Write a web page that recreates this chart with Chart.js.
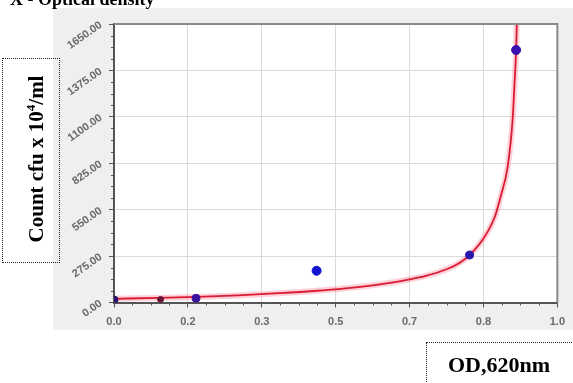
<!DOCTYPE html>
<html>
<head>
<meta charset="utf-8">
<script src="https://cdn.jsdelivr.net/npm/chart.js@4.4.1/dist/chart.umd.min.js"></script>
<style>
  html, body { margin: 0; padding: 0; background: #ffffff; }
  #wrap { position: relative; width: 573px; height: 383px; overflow: hidden; }
  #c { position: absolute; left: 0; top: 0; }
  .title { position: absolute; left: 10px; top: -11px; font: bold 18px "Liberation Serif", "Times New Roman", serif; color: #000; white-space: nowrap; }
  .ybox { position: absolute; left: 2px; top: 58px; width: 56px; height: 203px; border: 1px dotted #222; }
  .ylab { position: absolute; left: 36px; top: 159px; transform: translate(-50%, -50%) rotate(-90deg); font: bold 21px "Liberation Serif", "Times New Roman", serif; color: #000; white-space: nowrap; }
  .xbox { position: absolute; left: 426px; top: 342px; width: 160px; height: 60px; border: 1px dotted #222; }
  .xlab { position: absolute; left: 448px; top: 352px; font: bold 22px "Liberation Serif", "Times New Roman", serif; color: #000; white-space: nowrap; }
</style>
</head>
<body>
<div id="wrap">
  <canvas id="c" width="573" height="383"></canvas>
  <div class="title">X - Optical density</div>
  <div class="ybox"></div>
  <div class="ylab">Count cfu x 10<sup style="font-size:13px">4</sup>/ml</div>
  <div class="xbox"></div>
  <div class="xlab">OD,620nm</div>
</div>
<script>
// ---- data ----
const pointX = [0.0, 0.105, 0.185, 0.457, 0.802, 0.907];
const pointY = [15, 18, 25, 188, 281, 1496];
const pointColors = ['#2a1470', '#6a1438', '#3a14a0', '#1414d0', '#2a18b0', '#3a10b0'];

const curveX = [0, 0.1, 0.186, 0.28, 0.372, 0.45, 0.522, 0.6, 0.664, 0.701, 0.753, 0.78, 0.802, 0.836, 0.859, 0.872, 0.888, 0.899, 0.903, 0.907, 0.909];
const curveY = [22, 27, 33, 42, 55, 68, 84, 108, 136, 156, 200, 236, 281, 390, 508, 627, 805, 1081, 1279, 1496, 1700];

const xTickValues = [0, 1/6, 2/6, 3/6, 4/6, 5/6, 1];
const xTickLabels = ['0.0', '0.2', '0.3', '0.5', '0.7', '0.8', '1.0'];
const yTickValues = [0, 275, 550, 825, 1100, 1375, 1650];
const yTickLabels = ['0.00', '275.00', '550.00', '825.00', '1100.00', '1375.00', '1650.00'];

const pts = pointX.map((x, i) => ({ x: x, y: pointY[i] }));
const curve = curveX.map((x, i) => ({ x: x, y: curveY[i] }));

const bgPlugin = {
  id: 'bg',
  beforeDraw(chart) {
    const ctx = chart.ctx, a = chart.chartArea;
    ctx.save();
    ctx.fillStyle = '#efefef';
    ctx.fillRect(53, 8, 520, 322);
    ctx.fillStyle = '#ffffff';
    ctx.fillRect(a.left, a.top, a.right - a.left, a.bottom - a.top);
    ctx.restore();
  },
  afterDatasetsDraw(chart) {
    const ctx = chart.ctx, a = chart.chartArea;
    const xs = chart.scales.x, ys = chart.scales.y;
    ctx.save();
    ctx.strokeStyle = '#8a8a8a';
    ctx.lineWidth = 2;
    ctx.beginPath();
    ctx.moveTo(a.left, a.top); ctx.lineTo(a.right, a.top); ctx.lineTo(a.right, a.bottom);
    ctx.stroke();
    ctx.strokeStyle = '#555';
    ctx.lineWidth = 1;
    ctx.beginPath();
    for (let i = 0; i < xTickValues.length - 1; i++) {
      for (let k = 1; k < 4; k++) {
        const v = xTickValues[i] + (xTickValues[i + 1] - xTickValues[i]) * k / 4;
        const px = Math.round(xs.getPixelForValue(v)) + 0.5;
        ctx.moveTo(px, a.bottom); ctx.lineTo(px, a.bottom + 3);
      }
    }
    for (let i = 0; i < yTickValues.length - 1; i++) {
      for (let k = 1; k < 4; k++) {
        const v = yTickValues[i] + (yTickValues[i + 1] - yTickValues[i]) * k / 4;
        const py = Math.round(ys.getPixelForValue(v)) + 0.5;
        ctx.moveTo(a.left, py); ctx.lineTo(a.left - 3, py);
      }
    }
    ctx.stroke();
    ctx.restore();
  }
};

new Chart(document.getElementById('c'), {
  type: 'scatter',
  data: {
    datasets: [
      {
        label: 'Standards',
        data: pts,
        showLine: false,
        pointRadius: [4, 3, 4, 4.5, 4, 4.5],
        pointBackgroundColor: pointColors,
        pointBorderColor: pointColors,
        pointBorderWidth: 1
      },
      {
        label: 'Fit',
        data: curve,
        showLine: true,
        pointRadius: 0,
        borderColor: '#d81c34',
        borderWidth: 1.8,
        cubicInterpolationMode: 'monotone'
      },
      {
        label: 'Glow',
        data: curve,
        showLine: true,
        pointRadius: 0,
        borderColor: 'rgba(255,120,140,0.35)',
        borderWidth: 6,
        cubicInterpolationMode: 'monotone'
      }
    ]
  },
  options: {
    responsive: false,
    animation: false,
    devicePixelRatio: 1,
    layout: { padding: { left: 53, right: 13, top: 24, bottom: 53 } },
    plugins: { legend: { display: false }, tooltip: { enabled: false }, title: { display: false } },
    scales: {
      x: {
        type: 'linear',
        min: 0, max: 1,
        afterBuildTicks(scale) { scale.ticks = xTickValues.map(v => ({ value: v })); },
        afterFit(scale) { scale.height = 27.5; },
        ticks: {
          callback(v, i) { return xTickLabels[i]; },
          color: '#6a6a6a',
          font: { family: 'Liberation Sans, Arial, sans-serif', size: 11, weight: 'bold' },
          padding: 8,
          maxRotation: 0, minRotation: 0
        },
        grid: { color: '#dadada', tickColor: '#555', tickLength: 5 },
        border: { display: true, color: '#555', width: 2 }
      },
      y: {
        type: 'linear',
        min: 0, max: 1650,
        afterBuildTicks(scale) { scale.ticks = yTickValues.map(v => ({ value: v })); },
        afterFit(scale) { scale.width = 61; },
        ticks: {
          callback(v, i) { return yTickLabels[i]; },
          color: '#6a6a6a',
          font: { family: 'Liberation Sans, Arial, sans-serif', size: 11, weight: 'bold' },
          padding: 8,
          minRotation: 35, maxRotation: 35
        },
        grid: { color: '#dadada', tickColor: '#555', tickLength: 5 },
        border: { display: true, color: '#555', width: 2 }
      }
    }
  },
  plugins: [bgPlugin]
});
</script>
</body>
</html>
